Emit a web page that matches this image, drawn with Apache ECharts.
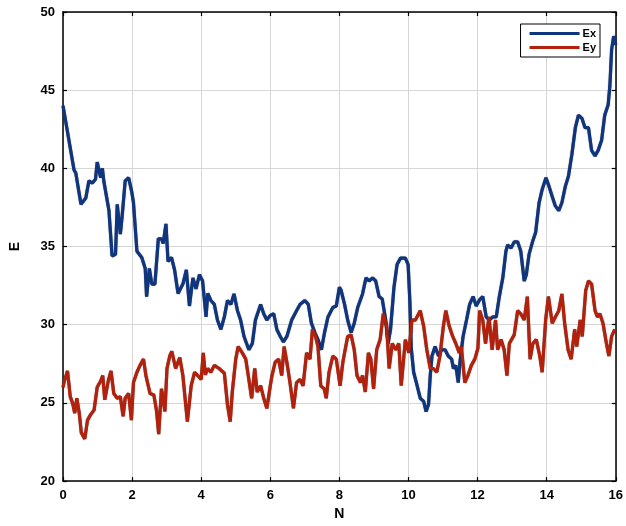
<!DOCTYPE html>
<html><head><meta charset="utf-8">
<script src="https://cdn.jsdelivr.net/npm/echarts@6/dist/echarts.min.js"></script>
<style>html,body{margin:0;padding:0;background:#fff}#c{width:626px;height:526px}</style>
</head><body><div id="c"></div>
<script>
const xTicks = [0,2,4,6,8,10,12,14,16];
const yTicks = [20,25,30,35,40,45,50];
const exN = [0,0.04,0.32,0.37,0.52,0.66,0.75,0.85,0.94,0.99,1.09,1.14,1.18,1.33,1.42,1.52,1.57,1.66,1.71,1.80,1.90,1.99,2.04,2.14,2.28,2.38,2.42,2.50,2.57,2.66,2.76,2.85,2.90,2.98,3.04,3.14,3.23,3.33,3.47,3.57,3.66,3.76,3.85,3.95,4.04,4.14,4.19,4.28,4.38,4.47,4.57,4.67,4.76,4.86,4.95,5.05,5.14,5.24,5.38,5.48,5.57,5.72,5.81,5.90,6.0,6.1,6.19,6.29,6.38,6.48,6.62,6.76,6.86,7.0,7.10,7.19,7.29,7.38,7.48,7.57,7.67,7.81,7.91,8.0,8.05,8.15,8.24,8.34,8.43,8.53,8.67,8.77,8.86,8.96,9.05,9.15,9.24,9.34,9.41,9.48,9.58,9.67,9.77,9.91,9.99,10.04,10.08,10.15,10.25,10.34,10.44,10.51,10.58,10.63,10.68,10.77,10.87,10.96,11.06,11.15,11.25,11.30,11.37,11.44,11.49,11.58,11.68,11.77,11.87,11.96,12.06,12.15,12.25,12.34,12.44,12.54,12.63,12.73,12.82,12.87,12.97,13.06,13.16,13.25,13.35,13.41,13.49,13.59,13.68,13.78,13.87,13.98,14.06,14.16,14.25,14.35,14.44,14.54,14.63,14.73,14.83,14.92,15.02,15.11,15.21,15.30,15.40,15.49,15.59,15.68,15.78,15.83,15.88,15.94,16.0];
const exVal = [44.0,43.9,39.9,39.7,37.7,38.1,39.2,39.06,39.3,40.4,39.4,40.0,39.2,37.3,34.4,34.5,37.7,35.8,36.9,39.2,39.4,38.5,37.8,34.7,34.3,33.6,31.8,33.6,32.6,32.6,35.5,35.5,35.2,36.45,34.05,34.3,33.5,32.0,32.6,33.5,31.2,33.0,32.3,33.2,32.8,30.5,32.0,31.55,31.3,30.3,29.7,30.5,31.55,31.3,31.97,30.9,30.3,29.25,28.4,28.8,30.3,31.3,30.7,30.3,30.6,30.7,29.7,29.25,28.9,29.25,30.3,30.9,31.3,31.55,31.3,30.1,29.5,29.05,28.4,29.5,30.5,31.1,31.2,32.4,32.2,31.3,30.3,29.5,30.1,31.1,31.97,33.0,32.8,33.0,32.8,31.8,31.65,30.3,28.8,29.7,32.4,33.85,34.26,34.26,33.85,31.5,28.5,26.96,26.1,25.3,25.1,24.45,24.9,26.75,28.0,28.6,28.0,28.4,28.4,28.0,27.8,27.2,27.4,26.3,27.6,29.25,30.3,31.3,31.8,31.2,31.6,31.8,30.5,30.3,30.5,30.5,31.8,33.0,34.7,35.1,34.9,35.3,35.3,34.7,32.8,33.2,34.5,35.3,35.9,37.8,38.65,39.4,38.9,38.2,37.6,37.3,37.8,38.85,39.5,40.9,42.6,43.4,43.2,42.6,42.6,41.15,40.8,41.15,41.8,43.4,44.07,45.3,47.6,48.45,47.9];
const eyN = [0,0.04,0.13,0.21,0.28,0.34,0.40,0.47,0.53,0.63,0.71,0.80,0.90,0.99,1.09,1.15,1.21,1.31,1.39,1.47,1.57,1.66,1.74,1.80,1.90,1.98,2.04,2.14,2.23,2.33,2.40,2.52,2.63,2.71,2.77,2.85,2.95,3.01,3.09,3.15,3.26,3.38,3.47,3.60,3.71,3.81,3.90,4.0,4.06,4.12,4.19,4.28,4.38,4.52,4.67,4.76,4.84,4.90,5.0,5.07,5.19,5.29,5.38,5.46,5.55,5.62,5.72,5.81,5.90,6.0,6.05,6.14,6.24,6.33,6.40,6.48,6.57,6.67,6.76,6.86,6.95,7.05,7.15,7.22,7.31,7.38,7.46,7.56,7.62,7.70,7.81,7.91,8.02,8.10,8.15,8.24,8.34,8.43,8.51,8.61,8.67,8.75,8.84,8.91,8.99,9.08,9.18,9.27,9.37,9.44,9.53,9.63,9.72,9.79,9.91,10.01,10.10,10.20,10.34,10.44,10.53,10.63,10.72,10.82,10.91,11.01,11.08,11.18,11.28,11.37,11.47,11.53,11.63,11.72,11.82,11.92,12.01,12.06,12.15,12.23,12.33,12.42,12.52,12.58,12.68,12.77,12.85,12.92,13.06,13.16,13.25,13.35,13.44,13.52,13.60,13.70,13.80,13.87,13.97,14.05,14.16,14.25,14.35,14.44,14.52,14.62,14.71,14.81,14.87,14.97,15.03,15.13,15.21,15.30,15.40,15.47,15.54,15.63,15.73,15.80,15.88,15.97];
const eyVal = [26.0,26.4,27.05,25.4,24.97,24.35,25.3,24.35,23.1,22.7,23.9,24.25,24.55,26.0,26.4,26.75,25.2,26.4,27.05,25.6,25.3,25.4,24.15,25.3,25.6,23.9,26.3,26.96,27.4,27.8,26.75,25.6,25.5,24.45,23.0,25.9,24.45,27.2,28.0,28.3,27.2,27.9,26.75,23.8,26.1,26.96,26.75,26.5,28.2,26.8,27.2,26.96,27.4,27.2,26.9,24.9,23.8,25.7,27.8,28.6,28.2,27.8,26.5,25.3,27.2,25.7,26.1,25.3,24.65,26.1,26.75,27.6,27.8,26.75,28.6,27.6,26.3,24.65,26.3,26.5,26.1,28.2,27.8,29.7,29.25,28.6,26.1,25.9,25.3,26.96,28.0,27.8,26.1,27.6,28.2,29.25,29.35,28.4,26.75,26.3,26.75,25.7,28.2,27.8,25.9,28.4,29.05,30.7,29.9,27.2,28.8,28.4,28.8,26.1,29.05,28.2,30.3,30.3,30.9,29.9,28.4,27.2,27.2,26.96,28.0,29.9,30.9,29.9,29.25,28.8,28.2,28.6,26.3,26.75,27.4,27.8,28.5,30.9,30.3,28.8,30.5,28.4,30.3,28.4,29.05,28.4,26.75,28.8,29.35,30.9,30.7,30.3,31.8,27.8,28.8,29.05,28.0,26.96,30.3,31.8,30.1,30.5,30.9,31.97,30.1,28.4,27.8,29.7,28.6,30.3,29.25,32.2,32.8,32.6,30.9,30.5,30.7,30.1,28.8,28.0,29.25,29.7];

const ex = exN.map((n,i)=>[n, exVal[i]]);
const ey = eyN.map((n,i)=>[n, eyVal[i]]);
const font = 'Liberation Sans';
const chart = echarts.init(document.getElementById('c'), null, {renderer:'canvas'});
const axisCommon = {
  axisLine:{show:true, onZero:false, lineStyle:{color:'#000', width:1.5}},
  axisTick:{show:true, inside:true, length:4, lineStyle:{color:'#000', width:1.2}},
};
chart.setOption({
  animation:false,
  backgroundColor:'#fff',
  grid:{left:57, right:10, top:12, bottom:35, containLabel:false},
  legend:{
    orient:'vertical', right:26, top:24,
    data:[{name:'Ex', icon:'rect'},{name:'Ey', icon:'rect'}],
    itemWidth:50, itemHeight:3, itemGap:1,
    padding:[3,4,3,9],
    borderColor:'#000', borderWidth:1, backgroundColor:'#fff',
    textStyle:{fontFamily:font, fontWeight:'bold', fontSize:11, color:'#000', lineHeight:13, padding:[0,0,0,-2]}
  },
  xAxis:[
    Object.assign({type:'value', min:0, max:16, interval:2, position:'bottom',
      name:'N', nameLocation:'middle', nameGap:21,
      nameTextStyle:{fontFamily:font, fontWeight:'bold', fontSize:14, color:'#000'},
      axisLabel:{fontFamily:font, fontWeight:'bold', fontSize:13, color:'#000', margin:8},
      splitLine:{show:true, lineStyle:{color:'#d6d6d6', width:1}}}, axisCommon),
    Object.assign({type:'value', min:0, max:16, interval:2, position:'top',
      axisLabel:{show:false}, splitLine:{show:false}}, axisCommon)
  ],
  yAxis:[
    Object.assign({type:'value', min:20, max:50, interval:5, position:'left',
      name:'E', nameLocation:'middle', nameGap:41, nameRotate:90,
      nameTextStyle:{fontFamily:font, fontWeight:'bold', fontSize:14, color:'#000'},
      axisLabel:{fontFamily:font, fontWeight:'bold', fontSize:13, color:'#000', margin:8},
      splitLine:{show:true, lineStyle:{color:'#d6d6d6', width:1}}}, axisCommon),
    Object.assign({type:'value', min:20, max:50, interval:5, position:'right',
      axisLabel:{show:false}, splitLine:{show:false}}, axisCommon)
  ],
  series:[
    {name:'Ex', type:'line', data:ex, symbol:'none', smooth:false,
      lineStyle:{color:'#0f357f', width:3.2, shadowColor:'rgba(0,0,0,0.6)', shadowBlur:1},
      itemStyle:{color:'#0f357f'}},
    {name:'Ey', type:'line', data:ey, symbol:'none', smooth:false,
      lineStyle:{color:'#b3200c', width:3.2, shadowColor:'rgba(0,0,0,0.6)', shadowBlur:1},
      itemStyle:{color:'#b3200c'}}
  ]
});
</script></body></html>
